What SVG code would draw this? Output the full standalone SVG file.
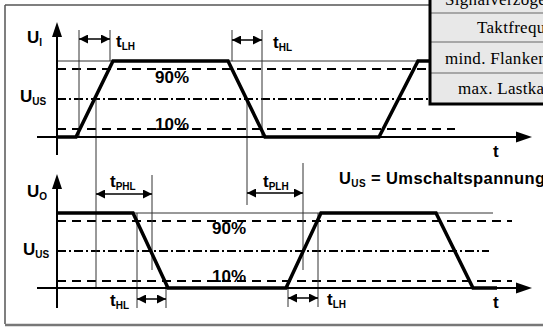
<svg xmlns="http://www.w3.org/2000/svg" width="543" height="327" viewBox="0 0 543 327">
<defs>
<marker id="dim" viewBox="0 0 10 10" refX="10" refY="5" markerWidth="9" markerHeight="9" markerUnits="userSpaceOnUse" orient="auto-start-reverse">
<path d="M0,0 L10,5 L0,10 Z" fill="#000"/>
</marker>
</defs>
<style>
.thin{stroke:#333;stroke-width:1;fill:none}
.dash{stroke:#000;stroke-width:2;stroke-dasharray:9 6;fill:none}
.dd{stroke:#000;stroke-width:2;stroke-dasharray:9 3 2 3;fill:none}
.sig{stroke:#000;stroke-width:3.5;fill:none;stroke-linejoin:miter}
.axis{stroke:#000;stroke-width:2;fill:none}
.dim{stroke:#000;stroke-width:1.5;fill:none;marker-start:url(#dim);marker-end:url(#dim)}
.lbl{font-family:"Liberation Sans",Arial,sans-serif;font-weight:bold;font-size:17px;fill:#000}
.sub{font-size:10px}
.pct{font-family:"Liberation Sans",Arial,sans-serif;font-weight:bold;font-size:17px;fill:#000}
.tbl{font-family:"Liberation Serif","Times New Roman",serif;font-size:17px;letter-spacing:0.3px;fill:#000}
</style>
<rect width="543" height="327" fill="#fff"/>
<g id="frame">
<path d="M5,5 H430 M5,5 V324" stroke="#555" stroke-width="1.5" fill="none"/>
<path d="M5,325 H543" stroke="#777" stroke-width="2.5" fill="none"/>
</g>
<g id="connectors">
<path class="thin" d="M57,61 H430"/>
<path class="dash" d="M57,69 H430"/>
<path class="dd" d="M57,99 H430"/>
<path class="dash" d="M57,129 H455"/>
<path class="thin" d="M57,213 H493"/>
<path class="dash" d="M57,221 H512"/>
<path class="dd" d="M57,251 H489"/>
<path class="dash" d="M57,281 H512"/>
<path class="thin" d="M79,30 V137 M110,30 V61 M96,99 V288 M232,30 V61 M262,30 V137 M247,99 V205 M152,175 V270 M137,213 V308 M166,281 V308 M303,163 V270 M288,281 V307 M318,213 V307"/>
<path class="dim" d="M79,39 H110"/>
<path class="dim" d="M232,40 H262"/>
<path class="dim" d="M96,194 H152"/>
<path class="dim" d="M247,193 H303"/>
<path class="dim" d="M137,299 H166"/>
<path class="dim" d="M288,298 H318"/>
<path class="axis" d="M57,35 V155 M37,137 H520"/>
<polygon points="57,22 52,37 62,37" fill="#000"/>
<polygon points="532,137 516,131.5 516,142.5" fill="#000"/>
<path class="axis" d="M57,187 V308 M37,288 H520"/>
<polygon points="57,174 52,189 62,189" fill="#000"/>
<polygon points="532,288 516,282.5 516,293.5" fill="#000"/>
<path class="sig" d="M57,137 H76 L113,61 H228 L265,137 H379 L418,61 H432"/>
<path class="sig" d="M57,213 H133 L168,288 H286 L321,213 H436 L473,288 H497"/>
</g>
<g id="labels">
<text class="lbl" x="27" y="43">U<tspan class="sub" dy="3">I</tspan></text>
<text class="lbl" x="20" y="102">U<tspan class="sub" dy="3">US</tspan></text>
<text class="lbl" x="116" y="47">t<tspan class="sub" dy="3">LH</tspan></text>
<text class="lbl" x="273" y="48">t<tspan class="sub" dy="3">HL</tspan></text>
<text class="lbl" x="493" y="157">t</text>
<text class="pct" x="155" y="83">90%</text>
<text class="pct" x="155" y="130">10%</text>
<text class="lbl" x="27" y="197">U<tspan class="sub" dy="3">O</tspan></text>
<text class="lbl" x="23" y="255">U<tspan class="sub" dy="3">US</tspan></text>
<text class="lbl" x="110" y="187">t<tspan class="sub" dy="3">PHL</tspan></text>
<text class="lbl" x="263" y="187">t<tspan class="sub" dy="3">PLH</tspan></text>
<text class="lbl" x="110" y="306">t<tspan class="sub" dy="3">HL</tspan></text>
<text class="lbl" x="327" y="305">t<tspan class="sub" dy="3">LH</tspan></text>
<text class="lbl" x="493" y="308">t</text>
<text class="pct" x="212" y="234">90%</text>
<text class="pct" x="212" y="282">10%</text>
<text class="lbl" x="339" y="184" style="font-size:16.5px;letter-spacing:0.4px">U<tspan class="sub" dy="3">US</tspan><tspan dy="-3"> = Umschaltspannung</tspan></text>
</g>
<g id="table">
<rect x="430" y="-2" width="120" height="106" fill="#e8e8e8"/>
<path d="M430,13 H543 M430,42 H543 M430,73 H543" stroke="#666" stroke-width="1" fill="none"/>
<path d="M430,-2 V104 H543" stroke="#000" stroke-width="3" fill="none"/>
<text class="tbl" x="445" y="5">Signalverzögerung</text>
<text class="tbl" x="477" y="33">Taktfrequenz</text>
<text class="tbl" x="445" y="64">mind. Flankensteilheit</text>
<text class="tbl" x="458" y="94">max. Lastkapazität</text>
</g>
</svg>
